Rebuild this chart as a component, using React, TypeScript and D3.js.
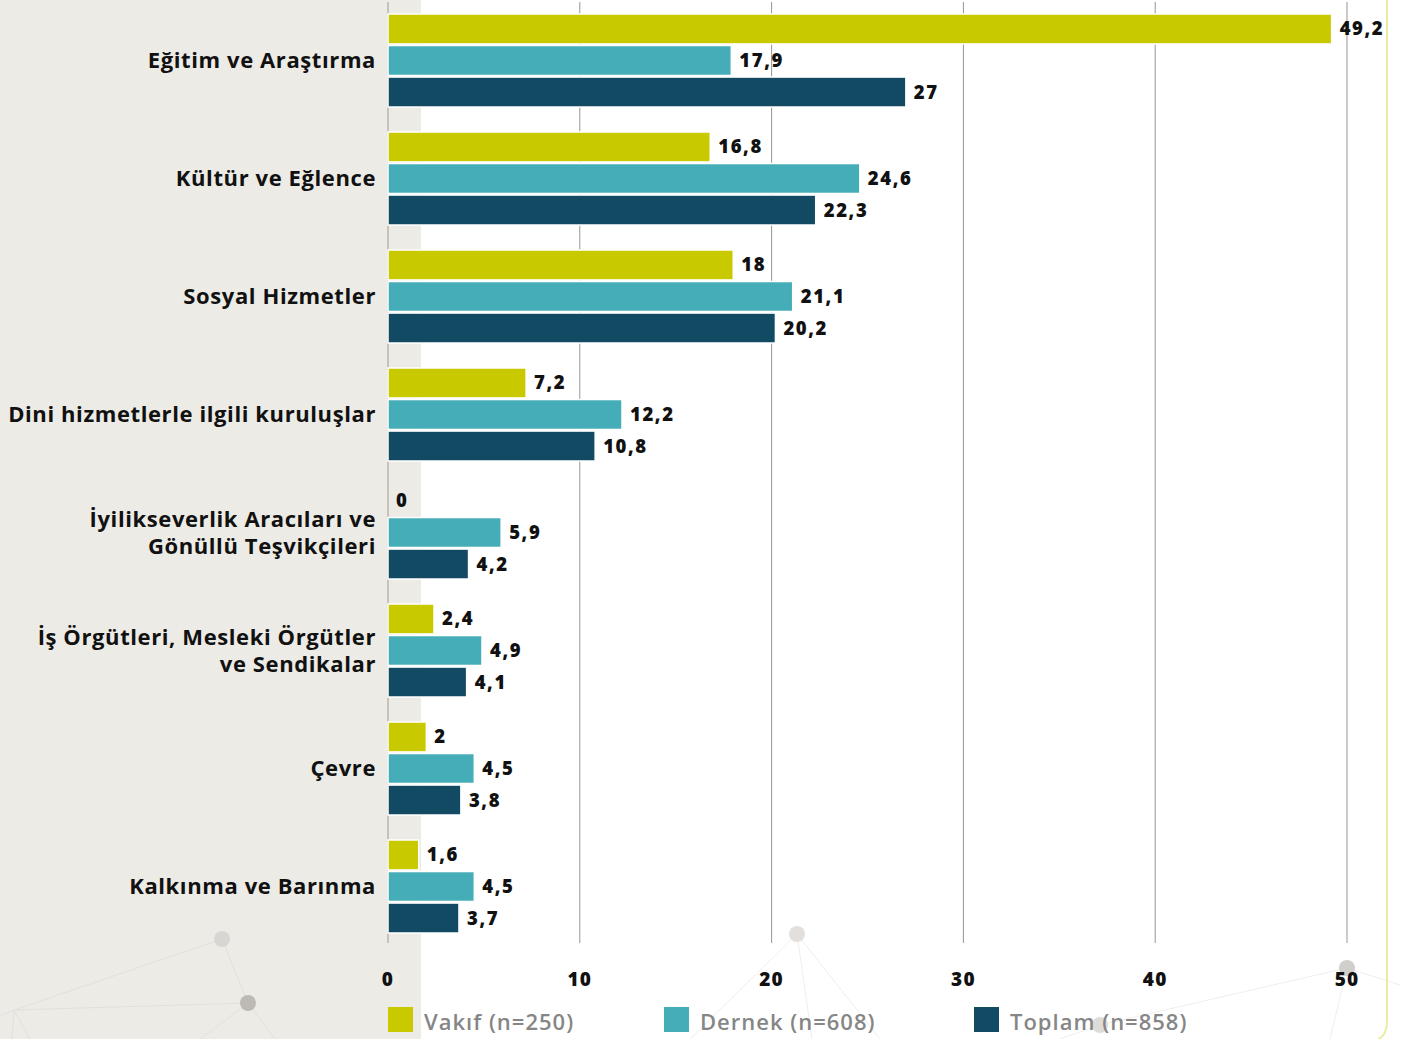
import React from "react";
import * as d3 from "d3";

const categories: string[][] = [
  ["Eğitim ve Araştırma"],
  ["Kültür ve Eğlence"],
  ["Sosyal Hizmetler"],
  ["Dini hizmetlerle ilgili kuruluşlar"],
  ["İyilikseverlik Aracıları ve", "Gönüllü Teşvikçileri"],
  ["İş Örgütleri, Mesleki Örgütler", "ve Sendikalar"],
  ["Çevre"],
  ["Kalkınma ve Barınma"],
];
const seriesNames = ["Vakıf (n=250)", "Dernek (n=608)", "Toplam (n=858)"];
const seriesColors = ["#c9c900", "#45adb8", "#134a63"];
const vakif = [49.2, 16.8, 18, 7.2, 0, 2.4, 2, 1.6];
const dernek = [17.9, 24.6, 21.1, 12.2, 5.9, 4.9, 4.5, 4.5];
const toplam = [27, 22.3, 20.2, 10.8, 4.2, 4.1, 3.8, 3.7];
const xTicks = [0, 10, 20, 30, 40, 50];

const W = 1402;
const H = 1039;
const FONT = "'Open Sans', 'Noto Sans', sans-serif";

const fmt = (v: number) => String(v).replace(".", ",");

export default function App() {
  const series = [vakif, dernek, toplam];
  const x = d3.scaleLinear().domain([0, 50]).range([388, 1347]);
  const y = d3
    .scaleBand<number>()
    .domain(d3.range(categories.length))
    .range([14, 14 + 118 * categories.length])
    .paddingInner(0)
    .paddingOuter(0);
  const inner = d3.scaleBand<number>().domain([0, 1, 2]).range([0, 93]).paddingInner(0.05);

  return (
    <svg width={W} height={H} style={{ display: "block", position: "absolute", left: 0, top: 0 }}>
      <rect x={0} y={0} width={W} height={H} fill="#ffffff" />
      <rect x={0} y={0} width={421} height={H} fill="#ecebe6" />
      {/* decorative network */}
      <g>
        <line x1={222} y1={939} x2={14} y2={1010} stroke="#e2e0dc" />
        <line x1={222} y1={939} x2={248} y2={1003} stroke="#e2e0dc" />
        <line x1={14} y1={1010} x2={248} y2={1003} stroke="#e2e0dc" />
        <line x1={14} y1={1010} x2={0} y2={1016} stroke="#e2e0dc" />
        <line x1={248} y1={1003} x2={200} y2={1039} stroke="#e2e0dc" />
        <line x1={248} y1={1003} x2={275} y2={1039} stroke="#e2e0dc" />
        <line x1={14} y1={1010} x2={12} y2={1039} stroke="#e2e0dc" />
        <line x1={14} y1={1010} x2={30} y2={1039} stroke="#e2e0dc" />
        <line x1={797} y1={934} x2={690} y2={1039} stroke="#efeeeb" />
        <line x1={797} y1={934} x2={812} y2={1039} stroke="#efeeeb" />
        <line x1={797} y1={934} x2={880} y2={1039} stroke="#efeeeb" />
        <line x1={1100} y1={1025} x2={1347} y2={968} stroke="#efeeeb" />
        <line x1={1100} y1={1025} x2={1060} y2={1039} stroke="#efeeeb" />
        <line x1={1347} y1={968} x2={1400} y2={985} stroke="#efeeeb" />
        <line x1={1347} y1={968} x2={1330} y2={1039} stroke="#efeeeb" />
        <circle cx={222} cy={939} r={8} fill="#d8d6d2" />
        <circle cx={248} cy={1003} r={8} fill="#bdbab5" />
        <circle cx={797} cy={934} r={8} fill="#e2dfdc" />
        <circle cx={1100} cy={1025} r={8} fill="#dedcd9" />
        <circle cx={1347} cy={968} r={8} fill="#d0cfcc" />
      </g>
      {/* gridlines */}
      {xTicks.map((t) => (
        <line key={t} x1={x(t)} x2={x(t)} y1={2} y2={943} stroke={t === 0 ? "#a39a90" : "#9d948b"} strokeWidth={1} />
      ))}
      {/* right border */}
      <path d="M1387,0 L1387,1020 Q1387,1036 1378,1039" fill="none" stroke="#ecec9e" strokeWidth={2} />
      {/* bars */}
      {categories.map((cat, ci) => {
        const g0 = y(ci)!;
        const midY = g0 + inner(1)! + inner.bandwidth() / 2;
        return (
          <g key={ci}>
            {series.map((s, si) => {
              const by = g0 + inner(si)!;
              const v = s[ci];
              return (
                <g key={si}>
                  <rect
                    x={x(0)}
                    y={by}
                    width={Math.max(x(v) - x(0), 0)}
                    height={inner.bandwidth()}
                    fill={seriesColors[si]}
                    stroke="#ffffff"
                    strokeWidth={1.5}
                  />
                  <text
                    x={x(v) + 8}
                    y={by + inner.bandwidth() / 2}
                    dy="0.35em"
                    fontFamily={FONT}
                    fontWeight={800}
                    fontSize={18.5}
                    letterSpacing={1.6}
                    fill="#111"
                  >
                    {fmt(v)}
                  </text>
                </g>
              );
            })}
            <text
              textAnchor="end"
              fontFamily={FONT}
              fontWeight={700}
              fontSize={22}
              letterSpacing={0.6}
              fill="#111"
            >
              {cat.map((line, li) => (
                <tspan key={li} x={376} y={midY + (li - (cat.length - 1) / 2) * 27} dy="0.35em">
                  {line}
                </tspan>
              ))}
            </text>
          </g>
        );
      })}
      {/* axis labels */}
      {xTicks.map((t) => (
        <text key={t} x={x(t)} y={979} dy="0.35em" textAnchor="middle" fontFamily={FONT} fontWeight={800} fontSize={19} letterSpacing={1.2} fill="#111">
          {t}
        </text>
      ))}
      {/* legend */}
      {seriesNames.map((n, i) => {
        const lx = [388, 664, 974][i];
        return (
          <g key={n}>
            <rect x={lx} y={1007} width={25} height={25} fill={seriesColors[i]} />
            <text x={lx + 36} y={1022} dy="0.35em" fontFamily={FONT} fontWeight={600} fontSize={22} letterSpacing={1} fill="#868686">
              {n}
            </text>
          </g>
        );
      })}
    </svg>
  );
}
